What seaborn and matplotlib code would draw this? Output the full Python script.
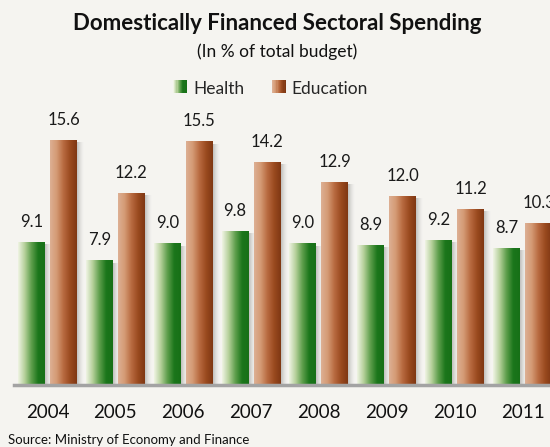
import numpy as np
import pandas as pd
import matplotlib
matplotlib.use("Agg")
import matplotlib.pyplot as plt
from matplotlib.colors import LinearSegmentedColormap
from matplotlib.patches import Rectangle
from matplotlib.legend_handler import HandlerBase
import seaborn as sns

# data
years = ["2004", "2005", "2006", "2007", "2008", "2009", "2010", "2011"]
health = [9.1, 7.9, 9.0, 9.8, 9.0, 8.9, 9.2, 8.7]
education = [15.6, 12.2, 15.5, 14.2, 12.9, 12.0, 11.2, 10.3]
series = ["Health", "Education"]

df = pd.DataFrame({
    "year": years * 2,
    "value": health + education,
    "sector": ["Health"] * len(years) + ["Education"] * len(years),
})

bg = "#f5f4f0"
sns.set_theme(style="white")
plt.rcParams["font.family"] = ["Lato", "DejaVu Sans"]

# gradient colours, left -> right across each bar
grads = {
    "Health": ["#f0f4e4", "#b5d09a", "#5e9e4c", "#1b761b", "#177017"],
    "Education": ["#ddb094", "#d49a74", "#b86a40", "#9a4a1f", "#7e3713"],
}
cmaps = {k: LinearSegmentedColormap.from_list(k, v) for k, v in grads.items()}

fig = plt.figure(figsize=(5.5, 4.47), dpi=100, facecolor=bg)
ax = fig.add_axes([14 / 550, 62 / 447, 536 / 550, 282.6 / 447])
ax.set_facecolor(bg)

sns.barplot(data=df, x="year", y="value", hue="sector", hue_order=series,
            order=years, width=0.944, gap=0.157, ax=ax, legend=False,
            palette=["#1b761b", "#9a4a1f"], saturation=1)

grad = np.linspace(0, 1, 256).reshape(1, -1)
px = 1 / 67.86  # one pixel in x data units
for cont, name, vals in zip(ax.containers, series, [health, education]):
    for bar, v in zip(cont, vals):
        x0, w, h = bar.get_x(), bar.get_width(), bar.get_height()
        bar.set_visible(False)
        # soft shadow at right
        sh = np.zeros((1, 64, 4))
        sh[..., :3] = 0.45
        sh[..., 3] = np.linspace(0.55, 0, 64) ** 1.5
        ax.imshow(sh, extent=[x0 + w, x0 + w + 7 * px, 0, h - 0.15],
                  aspect="auto", zorder=1, interpolation="bilinear")
        ax.imshow(grad, cmap=cmaps[name], extent=[x0, x0 + w, 0, h],
                  aspect="auto", zorder=2, interpolation="bilinear")
        ax.annotate(f"{v:.1f}", (x0 + w / 2, h), xytext=(0, 9),
                    textcoords="offset points", ha="center", va="bottom",
                    fontsize=12, color="#1a1a1a", annotation_clip=False)

ax.set_xlim(-0.494, 7.405)
ax.set_ylim(0, 18)
sns.despine(ax=ax, left=True, top=True, right=True)
ax.spines["bottom"].set_color("#a3a3a3")
ax.spines["bottom"].set_linewidth(2.5)
ax.set_yticks([])
ax.set_xlabel("")
ax.set_ylabel("")
ax.tick_params(axis="x", length=0, pad=14, labelsize=13.5, labelcolor="#111111")

fig.text(0.504, 0.947, "Domestically Financed Sectoral Spending", ha="center",
         va="center", fontsize=16, fontweight="bold", color="#111111")
fig.text(0.504, 0.884, "(In % of total budget)", ha="center", va="center",
         fontsize=12.5, color="#111111")
fig.text(0.014, 0.016, "Source: Ministry of Economy and Finance", ha="left",
         va="center", fontsize=9.5, color="#111111")


class GradHandler(HandlerBase):
    def __init__(self, cmap):
        super().__init__()
        self.cmap = cmap

    def create_artists(self, legend, orig, xd, yd, width, height, fontsize, trans):
        n = 12
        arts = []
        for i in range(n):
            r = Rectangle((xd + width * i / n, yd), width / n + 0.3, height,
                          facecolor=self.cmap(i / (n - 1)), edgecolor="none",
                          transform=trans)
            arts.append(r)
        return arts


handles = [Rectangle((0, 0), 1, 1) for _ in series]
fig.legend(handles, series, loc="center", bbox_to_anchor=(0.492, 0.802),
           ncol=2, frameon=False, fontsize=12.5, handlelength=0.8,
           handleheight=0.8, handletextpad=0.35, columnspacing=1.6,
           handler_map={h: GradHandler(cmaps[s]) for h, s in zip(handles, series)})

fig.savefig("out.png", dpi=100, facecolor=bg)
